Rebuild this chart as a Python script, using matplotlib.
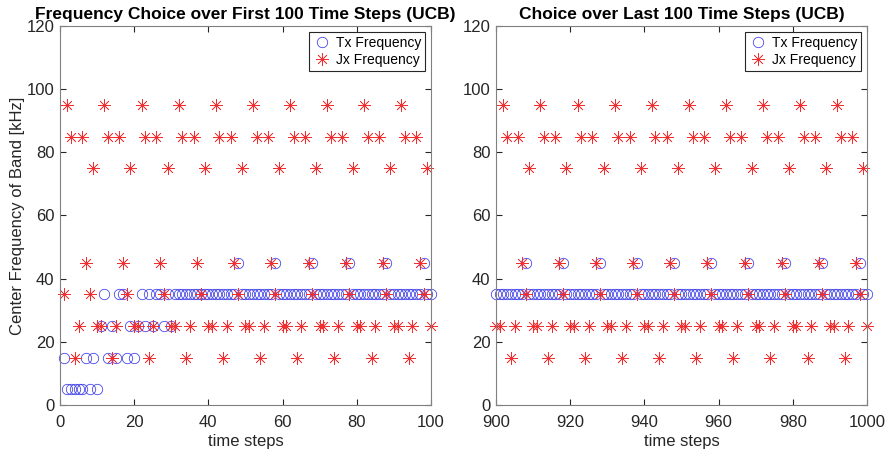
import matplotlib
matplotlib.use("Agg")
import matplotlib.pyplot as plt

plt.rcParams['font.family'] = ['Liberation Sans', 'DejaVu Sans']

# first 100 time steps
steps_first = list(range(1, 101))
tx_first = [
    15, 5, 5, 5, 5, 5, 15, 5, 15, 5,
    25, 35, 15, 25, 15, 35, 35, 15, 25, 15,
    25, 35, 25, 35, 25, 35, 35, 25, 35, 25,
    35, 35, 35, 35, 35, 35, 35, 35, 35, 35,
    35, 35, 35, 35, 35, 35, 35, 45, 35, 35,
    35, 35, 35, 35, 35, 35, 35, 45, 35, 35,
    35, 35, 35, 35, 35, 35, 35, 45, 35, 35,
    35, 35, 35, 35, 35, 35, 35, 45, 35, 35,
    35, 35, 35, 35, 35, 35, 35, 45, 35, 35,
    35, 35, 35, 35, 35, 35, 35, 45, 35, 35,
]
jx_first = [
    35, 95, 85, 15, 25, 85, 45, 35, 75, 25,
    25, 95, 85, 15, 25, 85, 45, 35, 75, 25,
    25, 95, 85, 15, 25, 85, 45, 35, 75, 25,
    25, 95, 85, 15, 25, 85, 45, 35, 75, 25,
    25, 95, 85, 15, 25, 85, 45, 35, 75, 25,
    25, 95, 85, 15, 25, 85, 45, 35, 75, 25,
    25, 95, 85, 15, 25, 85, 45, 35, 75, 25,
    25, 95, 85, 15, 25, 85, 45, 35, 75, 25,
    25, 95, 85, 15, 25, 85, 45, 35, 75, 25,
    25, 95, 85, 15, 25, 85, 45, 35, 75, 25,
]

# last 100 time steps
steps_last = list(range(900, 1001))
tx_last = [35,
    35, 35, 35, 35, 35, 35, 35, 45, 35, 35,
    35, 35, 35, 35, 35, 35, 35, 45, 35, 35,
    35, 35, 35, 35, 35, 35, 35, 45, 35, 35,
    35, 35, 35, 35, 35, 35, 35, 45, 35, 35,
    35, 35, 35, 35, 35, 35, 35, 45, 35, 35,
    35, 35, 35, 35, 35, 35, 35, 45, 35, 35,
    35, 35, 35, 35, 35, 35, 35, 45, 35, 35,
    35, 35, 35, 35, 35, 35, 35, 45, 35, 35,
    35, 35, 35, 35, 35, 35, 35, 45, 35, 35,
    35, 35, 35, 35, 35, 35, 35, 45, 35, 35,
]
jx_last = [25,
    25, 95, 85, 15, 25, 85, 45, 35, 75, 25,
    25, 95, 85, 15, 25, 85, 45, 35, 75, 25,
    25, 95, 85, 15, 25, 85, 45, 35, 75, 25,
    25, 95, 85, 15, 25, 85, 45, 35, 75, 25,
    25, 95, 85, 15, 25, 85, 45, 35, 75, 25,
    25, 95, 85, 15, 25, 85, 45, 35, 75, 25,
    25, 95, 85, 15, 25, 85, 45, 35, 75, 25,
    25, 95, 85, 15, 25, 85, 45, 35, 75, 25,
    25, 95, 85, 15, 25, 85, 45, 35, 75, 25,
    25, 95, 85, 15, 25, 85, 45, 35, 75, 25,
]

titles = ['Frequency Choice over First 100 Time Steps (UCB)',
          'Choice over Last 100 Time Steps (UCB)']
xticks_first = [0, 20, 40, 60, 80, 100]
xticks_last = [900, 920, 940, 960, 980, 1000]
yticks = [0, 20, 40, 60, 80, 100, 120]

fig = plt.figure(figsize=(8.86, 4.57), dpi=100)
ax1 = fig.add_axes([0.0677, 0.114, 0.4187, 0.829])
ax2 = fig.add_axes([0.5598, 0.114, 0.4187, 0.829])

asterisk = (8, 2, 0)
edge = '#808080'

panels = [
    (ax1, steps_first, tx_first, jx_first, xticks_first, (0, 100), titles[0]),
    (ax2, steps_last, tx_last, jx_last, xticks_last, (900, 1000), titles[1]),
]
for ax, steps, tx, jx, xt, xl, title in panels:
    ax.plot(steps, tx, linestyle='none', marker='o', markersize=7.5,
            markerfacecolor='none', markeredgecolor='#3a3ae8',
            markeredgewidth=0.55, label='Tx Frequency', clip_on=False)
    ax.plot(steps, jx, linestyle='none', marker=asterisk, markersize=9,
            markeredgecolor='#f03030', markeredgewidth=0.5,
            label='Jx Frequency', clip_on=False)
    ax.set_xlim(*xl)
    ax.set_ylim(0, 120)
    ax.set_xticks(xt)
    ax.set_yticks(yticks)
    ax.tick_params(direction='in', length=4, width=0.8, top=True, right=True,
                   labelsize=12, colors='#262626', pad=4)
    ax.tick_params(axis='x', pad=7)
    for sp in ax.spines.values():
        sp.set_color(edge)
        sp.set_linewidth(0.8)
    ax.set_xlabel('time steps', fontsize=12, color='#262626', labelpad=3)
    ax.set_title(title, fontsize=12.5, fontweight='bold', pad=5)
    leg = ax.legend(loc='upper right', fontsize=10, numpoints=1,
                    handlelength=1.2, handletextpad=0.4, borderpad=0.3,
                    labelspacing=0.2, borderaxespad=0.4, fancybox=False,
                    framealpha=1)
    leg.get_frame().set_edgecolor('#262626')
    leg.get_frame().set_linewidth(0.8)

ax1.set_ylabel('Center Frequency of Band [kHz]', fontsize=12,
               color='#262626', labelpad=1)

fig.savefig('out.png', dpi=100)
